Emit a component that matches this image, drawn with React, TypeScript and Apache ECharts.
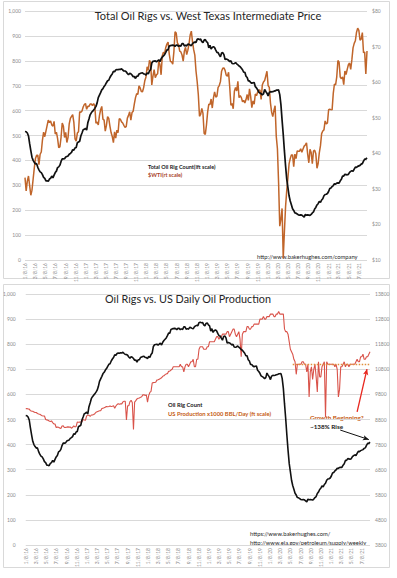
import React, { useEffect, useRef } from "react";
import * as echarts from "echarts";

// ---------- DATA ----------
const startDate = "2016-01-08"; // first weekly observation (Fridays)

const tickLabels = [
  "1/8/16", "3/8/16", "5/8/16", "7/8/16", "9/8/16", "11/8/16",
  "1/8/17", "3/8/17", "5/8/17", "7/8/17", "9/8/17", "11/8/17",
  "1/8/18", "3/8/18", "5/8/18", "7/8/18", "9/8/18", "11/8/18",
  "1/8/19", "3/8/19", "5/8/19", "7/8/19", "9/8/19", "11/8/19",
  "1/8/20", "3/8/20", "5/8/20", "7/8/20", "9/8/20", "11/8/20",
  "1/8/21", "3/8/21", "5/8/21", "7/8/21",
];

// Baker Hughes total US oil rig count, weekly
const rigCount = [
  // 2016
  516, 515, 510, 498, 467, 439, 413, 400, 392, 386, 387, 372, 362, 354, 351, 343, 332, 328, 318, 318, 316, 325, 328, 337, 330, 341,
  351, 357, 371, 374, 381, 396, 406, 406, 407, 414, 416, 418, 425, 428, 432, 443, 441, 450, 452, 471, 474, 477, 498, 510, 523, 525,
  // 2017
  529, 522, 551, 566, 583, 591, 597, 602, 609, 617, 631, 652, 662, 672, 683, 688, 697, 703, 712, 720, 722, 733, 741, 747, 758, 756,
  763, 765, 764, 766, 765, 768, 763, 759, 759, 756, 749, 744, 750, 748, 743, 736, 737, 729, 738, 738, 747, 749, 751, 752, 747, 747,
  // 2018
  742, 752, 747, 759, 765, 791, 798, 799, 800, 796, 800, 804, 797, 808, 815, 820, 825, 834, 844, 844, 859, 861, 862, 863, 862, 858,
  863, 863, 858, 861, 859, 869, 869, 860, 862, 860, 867, 866, 863, 861, 869, 873, 875, 874, 886, 888, 885, 887, 877, 873, 883, 885,
  // 2019
  877, 873, 852, 862, 847, 854, 857, 853, 843, 834, 833, 824, 816, 831, 833, 825, 805, 807, 805, 802, 797, 800, 789, 788, 789, 793,
  788, 784, 779, 776, 770, 764, 754, 754, 738, 733, 719, 719, 713, 710, 712, 713, 696, 691, 684, 674, 671, 668, 663, 667, 685, 677,
  // 2020
  670, 659, 673, 676, 675, 676, 678, 679, 682, 682, 683, 664, 624, 562, 504, 438, 378, 325, 292, 258, 237, 222, 206, 199, 189, 188,
  185, 181, 180, 181, 180, 176, 172, 183, 180, 181, 180, 179, 183, 189, 193, 205, 211, 221, 226, 236, 231, 241, 246, 258, 263, 264,
  // 2021
  267, 275, 287, 289, 295, 299, 306, 305, 309, 310, 309, 318, 324, 337, 337, 344, 343, 342, 344, 352, 356, 359, 356, 365, 373, 372,
  376, 378, 380, 385, 387, 397, 405, 405, 410,
];

// WTI price ($/bbl), weekly
const wtiPrice = [
  // 2016
  33.16, 29.42, 32.19, 33.62, 30.89, 28.2, 29.64, 32.78, 35.92, 38.5, 39.44, 39.46, 36.79, 39.72, 40.36, 43.73, 45.92, 44.66, 46.21,
  47.75, 49.33, 48.62, 49.07, 47.98, 47.64, 48.99, 45.41, 45.95, 44.19, 41.6, 41.8, 44.49, 48.52, 47.64, 44.44, 45.88, 43.03, 44.48,
  48.24, 49.81, 50.35, 50.85, 48.7, 44.07, 43.41, 45.69, 46.06, 51.68, 51.5, 51.9, 53.02, 53.72,
  // 2017
  53.99, 52.37, 53.22, 53.17, 53.83, 53.86, 53.4, 53.99, 53.33, 48.49, 48.78, 47.97, 50.6, 52.24, 53.18, 49.62, 49.33, 46.22, 47.84,
  50.33, 49.8, 47.66, 45.83, 44.74, 43.01, 46.04, 44.23, 46.54, 45.77, 49.71, 49.58, 48.82, 48.51, 47.87, 47.29, 47.48, 49.89, 50.66,
  51.67, 49.29, 51.45, 51.84, 53.9, 55.64, 56.74, 56.55, 58.95, 58.36, 57.36, 57.3, 58.47, 60.42,
  // 2018
  61.44, 64.3, 63.37, 66.14, 65.45, 59.2, 61.68, 63.55, 61.25, 62.04, 62.34, 65.88, 64.94, 62.06, 67.39, 68.38, 68.1, 69.72, 70.7,
  71.28, 67.88, 65.81, 65.74, 65.06, 68.58, 74.15, 73.8, 71.01, 70.46, 68.69, 68.49, 67.63, 65.91, 68.72, 69.8, 67.75, 68.99, 70.78,
  73.25, 74.34, 71.34, 69.12, 67.59, 63.14, 60.19, 56.46, 50.42, 50.93, 52.61, 51.2, 45.59, 45.33,
  // 2019
  47.96, 51.59, 53.8, 53.69, 55.26, 52.72, 55.59, 57.26, 55.8, 56.07, 58.52, 59.04, 60.14, 63.08, 63.89, 64.0, 63.3, 61.94, 61.66,
  62.76, 58.63, 53.5, 53.99, 52.51, 57.43, 58.47, 57.51, 60.21, 55.63, 56.2, 55.66, 54.5, 54.87, 54.17, 55.1, 56.52, 54.85, 58.09,
  55.91, 52.81, 54.7, 53.78, 56.66, 56.2, 57.24, 57.72, 57.77, 55.17, 59.2, 60.07, 60.44, 61.72,
  // 2020
  63.05, 59.04, 58.54, 54.19, 51.56, 50.32, 52.05, 53.38, 44.76, 41.28, 31.73, 19.5, 21.5, 24.5, 10.5, 18, 25, 29.5, 33, 37, 38.5,
  39.5, 39.55, 36.26, 39.75, 38.49, 40.65, 40.55, 40.59, 41.29, 40.27, 41.22, 42.01, 42.34, 42.97, 39.77, 37.33, 41.11, 40.25, 37.05,
  40.6, 40.88, 39.85, 35.79, 37.14, 40.13, 42.15, 45.53, 46.26, 46.57, 49.1, 48.23,
  // 2021
  48.52, 52.24, 52.36, 52.27, 52.2, 56.85, 59.47, 59.24, 61.5, 66.09, 65.61, 61.42, 60.97, 61.45, 59.32, 63.13, 62.14, 63.58, 64.9,
  65.37, 63.58, 66.32, 69.62, 70.91, 71.64, 74.05, 75.16, 74.56, 71.81, 72.07, 73.95, 68.28, 68.44, 62.32, 68.74,
];

// US crude production (x1000 bbl/day), weekly
const usProduction = [
  // 2016
  9227, 9235, 9221, 9215, 9152, 9135, 9126, 9102, 9077, 9078, 9041, 9022, 9008, 8977, 8953, 8938, 8938, 8802, 8785, 8767, 8737, 8716,
  8746, 8677, 8622, 8622, 8483, 8495, 8494, 8460, 8440, 8544, 8548, 8479, 8487, 8496, 8507, 8497, 8504, 8451, 8490, 8544, 8507, 8519,
  8694, 8688, 8697, 8699, 8707, 8796, 8779, 8770,
  // 2017
  8946, 8960, 8978, 8919, 8980, 8977, 9001, 9032, 9088, 9110, 9129, 9147, 9147, 9235, 9252, 9265, 9293, 9314, 9305, 9320, 9342, 9318,
  9327, 9350, 9250, 9338, 9397, 9429, 9410, 9423, 9423, 9502, 9528, 9530, 8781, 9350, 9345, 9510, 9561, 9480, 8404, 9496, 9553, 9620,
  9645, 9658, 9682, 9707, 9780, 9789, 9754, 9782,
  // 2018
  9492, 9752, 9878, 9919, 10251, 10271, 10273, 10283, 10369, 10381, 10407, 10433, 10460, 10525, 10540, 10586, 10619, 10620, 10723,
  10725, 10769, 10800, 10900, 10900, 10900, 10900, 10900, 10900, 11000, 10900, 10900, 10700, 10900, 11000, 11000, 10900, 11000, 11100,
  11100, 11200, 10900, 10900, 11200, 11200, 11600, 11700, 11700, 11700, 11600, 11600, 11600, 11700,
  // 2019
  11700, 11900, 11900, 11900, 11900, 11900, 12000, 12100, 12100, 12000, 12100, 12100, 12200, 12200, 12200, 12200, 12300, 12300, 12100,
  12200, 12300, 12400, 12400, 12200, 12100, 12200, 12300, 12000, 11300, 12200, 12300, 12300, 12300, 12500, 12500, 12400, 12400, 12500,
  12500, 12600, 12600, 12600, 12600, 12600, 12800, 12800, 12800, 12900, 12800, 12800, 12900, 12900,
  // 2020
  12900, 13000, 13000, 13000, 12900, 12900, 13000, 13000, 13100, 13000, 13000, 13000, 13000, 12400, 12300, 12300, 12200, 11900, 11600,
  11500, 11400, 11200, 11100, 10600, 11000, 11000, 11000, 11000, 11100, 11100, 11000, 11000, 10700, 11000, 9700, 10700, 10900, 10400,
  10800, 11000, 10500, 9900, 11100, 10500, 10500, 10900, 11000, 11100, 8900, 11100, 11000, 11000,
  // 2021
  11000, 11000, 11000, 11000, 10900, 11000, 10800, 9700, 10000, 10900, 10900, 11000, 11100, 10900, 11000, 11000, 10900, 11000, 11000,
  11000, 11000, 11000, 11100, 11200, 11100, 11100, 11300, 11300, 11400, 11200, 11200, 11300, 11300, 11400, 11500,
];

const productionPlateau = { from: "2020-05-22", to: "2021-08-27", level: 11000 };
const growthArrow = { from: ["2021-06-11", 9100], to: ["2021-08-09", 10810] };
const riseArrow = { from: ["2021-03-02", 458], to: ["2021-08-20", 420] };

// ---------- HELPERS ----------
const DAY = 86400000;
const t0 = Date.parse(startDate + "T00:00:00Z");
const dayOfIso = (iso: string) => Math.round((Date.parse(iso + "T00:00:00Z") - t0) / DAY);
const dayOfLabel = (lbl: string) => {
  const [m, d, y] = lbl.split("/").map(Number);
  return Math.round((Date.UTC(2000 + y, m - 1, d) - t0) / DAY);
};
const weekDays = (n: number) => Array.from({ length: n }, (_, i) => i * 7);
const pair = (vals: number[]) => {
  const days = weekDays(vals.length);
  return vals.map((v, i) => [days[i], v]);
};

const FONT = "Lato, 'Open Sans', sans-serif";

export default function App() {
  const ref = useRef<HTMLDivElement>(null);

  useEffect(() => {
    if (!ref.current) return;
    const chart = echarts.init(ref.current, undefined, { renderer: "svg" });
    const lastDay = (rigCount.length - 1) * 7;
    const tickDays = tickLabels.map(dayOfLabel);
    const labelMap: Record<number, string> = {};
    tickLabels.forEach((l, i) => (labelMap[tickDays[i]] = l));

    const xAxisBase = (gridIndex: number) => ({
      type: "value",
      gridIndex,
      min: 0,
      max: lastDay,
      axisLine: { show: false },
      axisTick: { show: false },
      splitLine: { show: false },
      axisLabel: {
        customValues: tickDays,
        formatter: (v: number) => labelMap[Math.round(v)] ?? "",
        rotate: 90,
        fontSize: 5,
        color: "#8c8c8c",
        margin: 3,
        fontFamily: FONT,
      },
    });
    const yLabel = { fontSize: 5, color: "#8c8c8c", fontFamily: FONT };
    const grid = { lineStyle: { color: "#d9d9d9", width: 1 } };

    const text = (t: string, x: number, y: number, o: any = {}) => ({
      type: "text",
      x,
      y,
      silent: true,
      style: {
        text: t,
        fill: o.fill || "#1a1a1a",
        fontSize: o.size || 6,
        fontWeight: o.weight || "normal",
        fontFamily: FONT,
        textAlign: o.align || "left",
        textVerticalAlign: "middle",
      },
    });

    chart.setOption({
      animation: false,
      backgroundColor: "#ffffff",
      grid: [
        { left: 25, right: 30, top: 11, height: 249 },
        { left: 22, right: 27, top: 294, height: 251 },
      ],
      xAxis: [xAxisBase(0), xAxisBase(1)],
      yAxis: [
        { type: "value", gridIndex: 0, min: 0, max: 1000, interval: 100, axisLabel: { ...yLabel, margin: 4 }, splitLine: grid, axisLine: { show: false }, axisTick: { show: false } },
        { type: "value", gridIndex: 0, position: "right", min: 10, max: 80, interval: 10, axisLabel: { ...yLabel, margin: 5, formatter: "${value}" }, splitLine: { show: false }, axisLine: { show: false }, axisTick: { show: false } },
        { type: "value", gridIndex: 1, min: 0, max: 1000, interval: 100, axisLabel: { ...yLabel, margin: 10 }, splitLine: grid, axisLine: { show: false }, axisTick: { show: false } },
        { type: "value", gridIndex: 1, position: "right", min: 3800, max: 13800, interval: 1000, axisLabel: { ...yLabel, margin: 5, formatter: (v: number) => String(v) }, splitLine: { show: false }, axisLine: { show: false }, axisTick: { show: false } },
      ],
      series: [
        {
          type: "line", xAxisIndex: 0, yAxisIndex: 1, data: pair(wtiPrice), showSymbol: false,
          lineStyle: { color: "#C0652A", width: 1.5 }, z: 2,
        },
        {
          type: "line", xAxisIndex: 0, yAxisIndex: 0, data: pair(rigCount), showSymbol: false,
          lineStyle: { color: "#111111", width: 1.7 }, z: 3,
        },
        {
          type: "line", xAxisIndex: 1, yAxisIndex: 3, data: pair(usProduction), showSymbol: false,
          lineStyle: { color: "#D9534A", width: 1.1 }, z: 2,
          markLine: {
            silent: true, animation: false, label: { show: false },
            data: [
              [
                { coord: [dayOfIso(productionPlateau.from), productionPlateau.level], symbol: "none", lineStyle: { color: "#E0903C", width: 1.3, type: [1.5, 1.5] } },
                { coord: [dayOfIso(productionPlateau.to), productionPlateau.level], symbol: "none" },
              ],
              [
                { coord: [dayOfIso(growthArrow.from[0] as string), growthArrow.from[1]], symbol: "none", lineStyle: { color: "#E8261E", width: 1.3, type: "solid" } },
                { coord: [dayOfIso(growthArrow.to[0] as string), growthArrow.to[1]], symbol: "arrow", symbolSize: [4, 6] },
              ],
            ],
          },
        },
        {
          type: "line", xAxisIndex: 1, yAxisIndex: 2, data: pair(rigCount), showSymbol: false,
          lineStyle: { color: "#111111", width: 1.6 }, z: 3,
          markLine: {
            silent: true, animation: false, label: { show: false },
            data: [
              [
                { coord: [dayOfIso(riseArrow.from[0] as string), riseArrow.from[1]], symbol: "none", lineStyle: { color: "#111111", width: 1, type: "solid" } },
                { coord: [dayOfIso(riseArrow.to[0] as string), riseArrow.to[1]], symbol: "arrow", symbolSize: [4, 6] },
              ],
            ],
          },
        },
      ],
      graphic: [
        { type: "rect", silent: true, z: -10, shape: { x: 3.5, y: 1.5, width: 386, height: 277 }, style: { fill: "none", stroke: "#d9d9d9", lineWidth: 1 } },
        { type: "rect", silent: true, z: -10, shape: { x: 3.5, y: 284.5, width: 386, height: 283 }, style: { fill: "none", stroke: "#d9d9d9", lineWidth: 1 } },
        text("Total Oil Rigs vs. West Texas Intermediate Price", 208, 15, { size: 11, align: "center", fill: "#262626" }),
        text("Oil Rigs vs. US Daily Oil Production", 188, 298, { size: 10.8, align: "center", fill: "#262626" }),
        text("Total Oil Rig Count(lft scale)", 148, 167, { size: 5.5, weight: "bold" }),
        text("$WTI(rt scale)", 148, 175, { size: 5.5, weight: "bold", fill: "#A8452A" }),
        text("http://www.bakerhughes.com/company", 257, 256, { size: 5.8, fill: "#262626" }),
        text("Oil Rig Count", 168, 404, { size: 5.8, weight: "bold" }),
        text("US Production x1000 BBL/Day (ft scale)", 168, 413, { size: 5.8, weight: "bold", fill: "#C55A11" }),
        text("Growth Beginning?", 310, 417, { size: 6.3, weight: "bold", fill: "#C55A11" }),
        text("~138% Rise", 310, 426, { size: 6.3, weight: "bold" }),
        text("https://www.bakerhughes.com/", 250, 533, { size: 5.8, fill: "#262626" }),
        text("http://www.eia.gov/petroleum/supply/weekly", 250, 542, { size: 5.8, fill: "#262626" }),
      ],
    });
    return () => chart.dispose();
  }, []);

  return (
    <div
      ref={ref}
      style={{ position: "fixed", left: 0, top: 0, width: 397, height: 578, background: "#fff" }}
    />
  );
}
